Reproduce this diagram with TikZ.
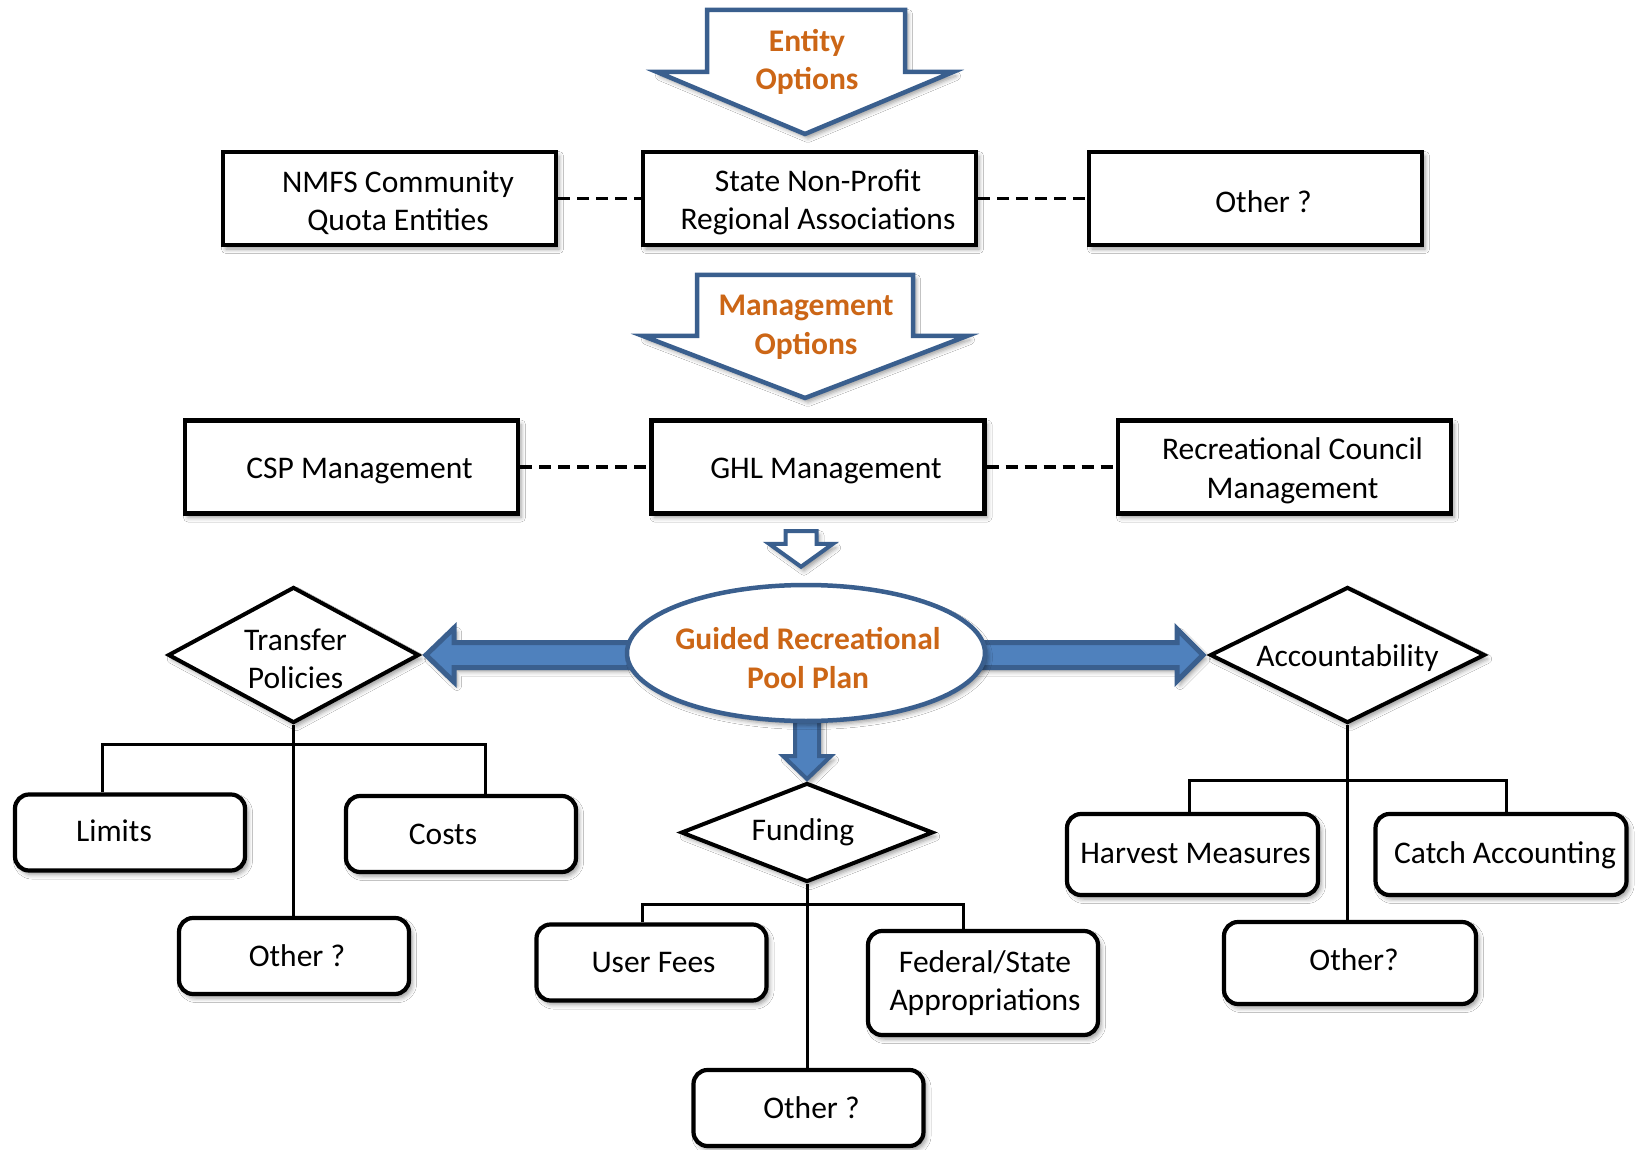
\documentclass[tikz,border=0pt]{standalone}
\usepackage{fontspec}
\setmainfont{Carlito}
\usetikzlibrary{shapes.geometric,calc,shadows.blur}
\definecolor{arrowline}{HTML}{3A5F8E}
\definecolor{arrowfill}{HTML}{4F81BD}
\definecolor{titleorange}{HTML}{CC6616}
\pgfdeclarelayer{background}
\pgfsetlayers{background,main}
\begin{document}
\begin{tikzpicture}[x=1pt,y=-1pt,
  every node/.style={font=\fontsize{31.5}{38.5}\selectfont, align=center},
  softshadow/.style={blur shadow={shadow xshift=3pt, shadow yshift=-4pt, shadow blur radius=4.5pt, shadow opacity=40}},
  sqbox/.style={draw, line width=4.2, fill=white, minimum width=333, minimum height=93, inner sep=0, softshadow},
  rbox/.style={draw, line width=4.2, fill=white, rounded corners=14, minimum width=230, minimum height=76, inner sep=0, softshadow},
  decision/.style={diamond, draw, line width=4, fill=white, inner sep=0, softshadow},
  dashlink/.style={line width=3.5, dash pattern=on 12pt off 7pt},
  treeline/.style={line width=3},
  blockarrow/.style={draw=arrowline, line width=4.5, fill=white, line join=miter, softshadow},
  bigarrow/.style={draw=arrowline, line width=5, fill=arrowfill, line join=miter, softshadow},
  heading/.style={text=titleorange, font=\fontsize{31.5}{38.5}\selectfont\bfseries}
]
\useasboundingbox (0,0) rectangle (1642,1150);

% ---- block arrows announcing the option rows ----
\draw[blockarrow] (707,10) -- (905,10) -- (905,72) -- (953,72) -- (805,134)
  -- (657,72) -- (707,72) -- cycle;
\node[heading] (entity) at (807,62) {Entity\\Options};

\draw[blockarrow] (697,275) -- (913,275) -- (913,336) -- (967,336) -- (805,398)
  -- (643,336) -- (697,336) -- cycle;
\node[heading] (mgmt) at (806,327.5) {Management\\Options};

% ---- entity options ----
\node[sqbox, label={[xshift=8.5, yshift=-4]center:{NMFS Community\\Quota Entities}}] (nmfs) at (389.5,198.5) {};
\node[sqbox, label={[xshift=8.5, yshift=-4]center:{State Non-Profit\\Regional Associations}}] (snp) at (809.5,198.5) {};
\node[sqbox, label={[xshift=8, yshift=-3]center:{Other ?}}] (oth1) at (1255.5,198.5) {};

% ---- management options ----
\node[sqbox, label={[xshift=8, yshift=-4]center:{CSP Management}}] (csp) at (351.5,467) {};
\node[sqbox, label={[xshift=8, yshift=-4]center:{GHL Management}}] (gh) at (818,467) {};
\node[sqbox, label={[xshift=8, yshift=-4]center:{Recreational Council\\Management}}] (rc) at (1284.5,467) {};

% ---- central plan ----
\node[ellipse, draw=arrowline, line width=4.5, fill=white, minimum width=358,
      minimum height=136, inner sep=0, softshadow,
      label={[heading, xshift=2, yshift=-5]center:{Guided Recreational\\Pool Plan}}] (gp) at (806,653) {};

% hollow arrow from the management row to the plan
\coordinate (tipS) at ($(gp.north)+(-5,-16)$);
\draw[blockarrow, line width=4] ($(tipS)+(-15.5,-23)$) -- ($(gh.south -| tipS)+(-15.5,15.5)$)
  -- ++(31,0) -- ($(tipS)+(15.5,-23)$) -- ++(16.5,0) -- (tipS) -- ++(-32,-23) -- cycle;

% ---- decision diamonds ----
\node[decision, minimum width=251, minimum height=136,
      label={[xshift=2, yshift=-4]center:{Transfer\\Policies}}] (tp) at (293.5,655) {};
\node[decision, minimum width=275, minimum height=136,
      label={[yshift=-3]center:{Accountability}}] (ac) at (1347.5,655) {};
\node[decision, minimum width=252, minimum height=99,
      label={[xshift=-4]center:{Funding}}] (fd) at (807,832.5) {};

% ---- leaves ----
\node[rbox, label={[xshift=-16, yshift=2]center:{Limits}}] (lim) at (130,832.5) {};
\node[rbox, label={[xshift=-18]center:{Costs}}] (cost) at (461,834) {};
\node[rbox, label={[xshift=3]center:{Other ?}}] (othL) at (294,956) {};

\node[rbox, label={[xshift=2]center:{User Fees}}] (uf) at (651.5,962.5) {};
\node[rbox, minimum height=104, label={[xshift=2]center:{Federal/State\\Appropriations}}] (fed) at (983,983) {};
\node[rbox, label={[xshift=3]center:{Other ?}}] (othM) at (808.5,1108) {};

\node[rbox, minimum width=251, minimum height=81, label={[xshift=3, yshift=1]center:{Harvest Measures}}] (hm) at (1192.5,854.5) {};
\node[rbox, minimum width=251, minimum height=81, label={[xshift=4, yshift=-1]center:{Catch Accounting}}] (ca) at (1501,854.5) {};
\node[rbox, minimum width=252, minimum height=82, label={[xshift=4, yshift=3]center:{Other?}}] (othR) at (1350,963) {};

\begin{pgfonlayer}{background}
  \fill[white] (0,0) rectangle (1642,1150);

  % dashed links between alternatives
  \draw[dashlink] (nmfs.east) -- (snp.west);
  \draw[dashlink] (snp.east) -- (oth1.west);
  \draw[dashlink] (csp.east) -- (gh.west);
  \draw[dashlink] (gh.east) -- (rc.west);

  % thick arrows out of the plan
  \draw[bigarrow] ($(tp.east)+(5,0)$) -- ++(28,-27) -- ++(0,14.5)
    -- ($(gp.west |- tp.east)+(20,-12.5)$) -- ++(0,25)
    -- ($(tp.east)+(33,12.5)$) -- ++(0,14.5) -- cycle;
  \draw[bigarrow] ($(ac.west)+(-5,0)$) -- ++(-26,-26) -- ++(0,13.5)
    -- ($(gp.east |- ac.west)+(-20,-12.5)$) -- ++(0,25)
    -- ($(ac.west)+(-31,12.5)$) -- ++(0,13.5) -- cycle;
  \draw[bigarrow, line width=4] ($(fd.north)+(0,-2)$) -- ++(-24,-23) -- ++(12,0)
    -- ($(gp.south -| fd.north)+(-12,-10)$) -- ++(24,0)
    -- ($(fd.north)+(12,-25)$) -- ++(12,0) -- cycle;

  % branching trees
  \draw[treeline] (tp.south) -- (tp.south |- othL.north);
  \draw[treeline] ($(lim.north)+(-28,0)$) |- ($(tp.south)+(0,19)$) -| ($(cost.north)+(24,0)$);

  \draw[treeline] (fd.south) -- (fd.south |- othM.north);
  \draw[treeline] ($(uf.north)+(-9,0)$) |- ($(fd.south)+(0,20)$) -| ($(fed.north)+(-20,0)$);

  \draw[treeline] (ac.south) -- (ac.south |- othR.north);
  \draw[treeline] ($(hm.north)+(-3,0)$) |- ($(ac.south)+(0,55)$) -| ($(ca.north)+(5,0)$);
\end{pgfonlayer}
\end{tikzpicture}
\end{document}
